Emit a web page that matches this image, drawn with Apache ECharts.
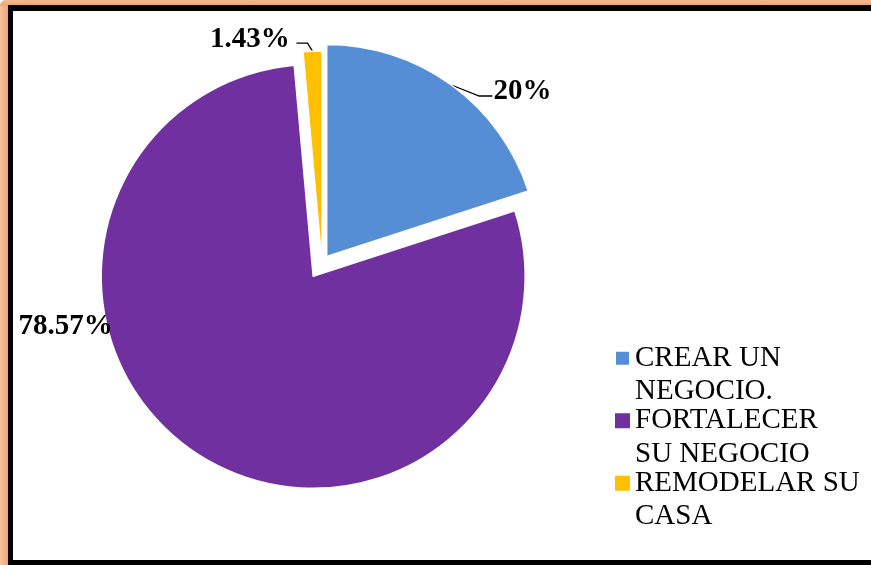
<!DOCTYPE html>
<html>
<head>
<meta charset="utf-8">
<script src="https://cdn.jsdelivr.net/npm/echarts@6/dist/echarts.min.js"></script>
<style>
  html, body { margin: 0; padding: 0; background: #fff; }
  #frame { position: absolute; left: 0; top: 0; width: 871px; height: 565px; overflow: hidden; }
  .glow { position: absolute; left: 0; top: 0; width: 900px; height: 600px; border-radius: 6px;
          background: linear-gradient(90deg, #F6C39E 0px, #EFA673 8px); }
  .glow-top { position: absolute; left: 0; top: 0; width: 900px; height: 6px;
          background: linear-gradient(180deg, #F4BB92 0px, #EFA673 5px); border-radius: 6px 0 0 0; }
  .ink { position: absolute; left: 8px; top: 5px; width: 900px; height: 560px; background: #000; }
  .paper { position: absolute; left: 13px; top: 11px; width: 900px; height: 549px; background: #fff; }
  #chart { position: absolute; left: 0; top: 0; width: 871px; height: 565px; }
</style>
</head>
<body>
<div id="frame">
  <div class="glow"></div>
  <div class="glow-top"></div>
  <div class="ink"></div>
  <div class="paper"></div>
</div>
<div id="chart"></div>
<script>
// Survey answers: what the credit was used for
const categories = ['CREAR UN NEGOCIO.', 'FORTALECER SU NEGOCIO', 'REMODELAR SU CASA'];
const legendLabels = ['CREAR UN\nNEGOCIO.', 'FORTALECER\nSU NEGOCIO', 'REMODELAR SU\nCASA'];
const counts = [14, 55, 1];
const sliceColors = ['#558ED5', '#7030A0', '#FFC000'];

// each slice is pulled out of the pie by its own distance
const sliceOffsets = [8, 16, 0];

const serif = '"Liberation Serif", "Times New Roman", serif';

// nudges for the percentage labels; the leader lines start where the
// library anchors them on the slice edge
const labelLayouts = [
  function (p) {
    const pts = p.labelLinePoints;
    const out = { dx: 17, dy: 18 };
    if (pts && pts.length) {
      const o = pts[0];
      out.labelLinePoints = [[o[0], o[1]], [o[0] + 28, o[1] + 11], [o[0] + 41, o[1] + 11]];
    }
    return out;
  },
  function () {
    return { dx: -59, dy: -138 };
  },
  function (p) {
    const pts = p.labelLinePoints;
    const out = { dx: -5, dy: 2 };
    if (pts && pts.length) {
      const o = pts[0];
      out.labelLinePoints = [[o[0], o[1]], [o[0] - 5, o[1] - 8], [o[0] - 16, o[1] - 8]];
    }
    return out;
  }
];

function sliceSeries(own) {
  return {
    type: 'pie',
    center: [322, 263],
    radius: 212,
    startAngle: 90,
    clockwise: true,
    selectedMode: 'single',
    selectedOffset: sliceOffsets[own],
    avoidLabelOverlap: false,
    percentPrecision: 2,
    animation: false,
    label: {
      position: 'outside',
      formatter: '{d}%',
      fontFamily: serif,
      fontWeight: 'bold',
      fontSize: 29,
      color: '#000'
    },
    labelLine: {
      show: true,
      length: 14,
      length2: 12,
      lineStyle: { color: '#000', width: 1.3 }
    },
    labelLayout: labelLayouts[own],
    data: categories.map(function (name, i) {
      const mine = i === own;
      return {
        name: name,
        value: counts[i],
        selected: mine && sliceOffsets[own] > 0,
        itemStyle: mine
          ? { color: sliceColors[i], borderColor: '#fff', borderWidth: 1.5 }
          : { color: 'rgba(0,0,0,0)', borderWidth: 0 },
        label: { show: mine },
        labelLine: { show: mine && i !== 1 }
      };
    })
  };
}

const chart = echarts.init(document.getElementById('chart'), null, { renderer: 'canvas' });
chart.setOption({
  backgroundColor: 'transparent',
  animation: false,
  legend: {
    orient: 'vertical',
    left: 614,
    top: 308,
    padding: 0,
    icon: 'rect',
    itemWidth: 15,
    itemHeight: 15,
    itemGap: -38,
    selectedMode: false,
    data: categories.map(function (name, i) {
      return { name: name, itemStyle: { color: sliceColors[i] } };
    }),
    // a leading empty line keeps the first text line level with the swatch
    formatter: function (name) {
      return '\n' + legendLabels[categories.indexOf(name)];
    },
    textStyle: {
      fontFamily: serif,
      fontSize: 29,
      color: '#000',
      lineHeight: 33.5
    }
  },
  series: [sliceSeries(0), sliceSeries(1), sliceSeries(2)]
});
</script>
</body>
</html>
